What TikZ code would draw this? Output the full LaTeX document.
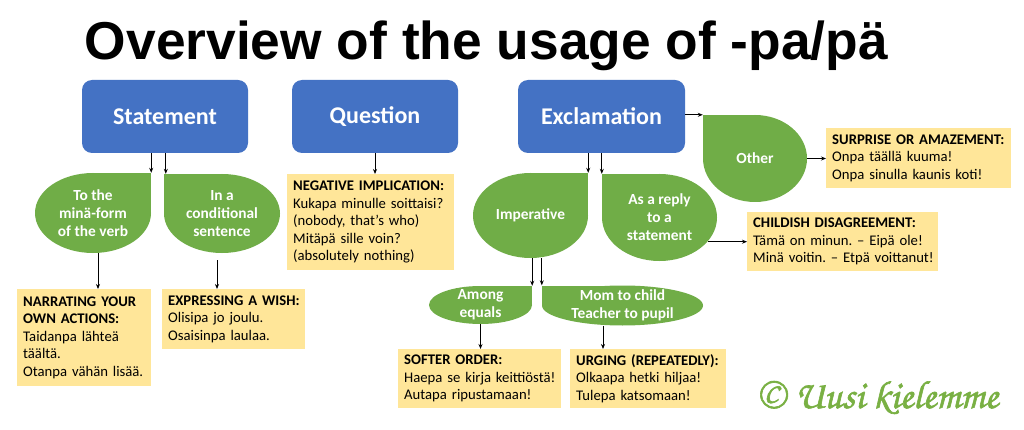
\documentclass[tikz,border=0pt]{standalone}
\usepackage{fontspec}
\usepackage{graphicx}
\setmainfont{Carlito}
\newfontfamily\titlefnt{Liberation Sans}
\newfontfamily\scriptfnt[FakeBold=1.5]{TeX Gyre Chorus}
\usetikzlibrary{arrows.meta}
\definecolor{blueC}{HTML}{4472C4}
\definecolor{greenC}{HTML}{70AD47}
\definecolor{yellowC}{HTML}{FFE699}
\definecolor{copyC}{HTML}{79B043}
\frenchspacing
\newcommand\yl[1]{\mbox{#1}}
\tikzset{
  bluebox/.style={fill=blueC, rounded corners=10pt, text=white, inner sep=0pt,
    font=\bfseries\fontsize{24}{28}\selectfont},
  leaf/.style={text=white, inner sep=0pt, align=center,
    font=\bfseries\fontsize{15.4}{18}\selectfont},
  ybox/.style={fill=yellowC, anchor=north west, inner xsep=6pt, inner ysep=3pt,
    align=left, text=black, font=\fontsize{14.7}{17.6}\selectfont},
  arr/.style={-{Stealth[length=5pt,width=4pt]}, line width=0.8pt, black}
}
% name, cx, cy, rx, ry, side(+1 = sharp NE, -1 = sharp NW), text
\newcommand\leafnode[7]{%
  \fill[greenC] (#2,#3) ellipse [x radius=#4pt, y radius=#5pt];
  \fill[greenC] (#2,#3) rectangle ++({#6*#4},{-#5});
  \node[leaf, minimum width=2*#4pt, minimum height=2*#5pt] (#1) at (#2,#3) {#7};
}
\begin{document}
\begin{tikzpicture}[x=1pt,y=-1pt]
\useasboundingbox[fill=white] (0,0) rectangle (1024,430);

% title
\node[anchor=base, inner sep=0pt] (title) at (486.5,59.5)
  {\resizebox{803pt}{!}{\titlefnt\bfseries\fontsize{53}{60}\selectfont Overview of the usage of -pa/pä}};

% blue boxes
\node[bluebox, minimum width=166pt, minimum height=73pt] (stmt) at (165,116.5) {Statement};
\node[bluebox, minimum width=166pt, minimum height=73pt] (ques) at (375,116.5) {Question};
\node[bluebox, minimum width=167pt, minimum height=73pt] (excl) at (601.5,116.5) {Exclamation};

% green leaves
\leafnode{mina}{93}{213}{58}{40}{1}{To the\\minä-form\\of the verb}
\leafnode{cond}{222}{213.5}{58}{39.5}{-1}{In a\\conditional\\sentence}
\leafnode{imp}{530.5}{215.5}{57.5}{42.5}{1}{Imperative}
\leafnode{reply}{659.5}{217.5}{57.5}{43.5}{-1}{As a reply\\to a\\statement}
\leafnode{other}{755}{158.5}{52}{43.5}{-1}{Other}
\leafnode{among}{480.5}{305}{51.5}{19}{1}{Among\\equals}
\leafnode{mom}{622.5}{305.5}{80.5}{20}{-1}{Mom to child\\Teacher to pupil}

% yellow boxes
\node[ybox, minimum width=134pt, minimum height=97pt, text width=122pt] (narr) at (17,289)
  {\yl{\textbf{NARRATING YOUR}}\\\yl{\textbf{OWN ACTIONS:}}\\\yl{Taidanpa lähteä}\\\yl{täältä.}\\\yl{Otanpa vähän lisää.}};
\node[ybox, minimum width=143pt, minimum height=60pt, text width=131pt] (wish) at (162,289)
  {\yl{\textbf{EXPRESSING A WISH:}}\\\yl{Olisipa jo joulu.}\\\yl{Osaisinpa laulaa.}};
\node[ybox, minimum width=167pt, minimum height=96pt, text width=155pt] (neg) at (287,174)
  {\yl{\textbf{NEGATIVE IMPLICATION:}}\\\yl{Kukapa minulle soittaisi?}\\\yl{(nobody, that’s who)}\\\yl{Mitäpä sille voin?}\\\yl{(absolutely nothing)}};
\node[ybox, minimum width=185pt, minimum height=60pt, text width=173pt] (surp) at (826,128)
  {\yl{\textbf{SURPRISE OR AMAZEMENT:}}\\\yl{Onpa täällä kuuma!}\\\yl{Onpa sinulla kaunis koti!}};
\node[ybox, minimum width=191pt, minimum height=59pt, text width=179pt] (child) at (747,212)
  {\yl{\textbf{CHILDISH DISAGREEMENT:}}\\\yl{Tämä on minun. – Eipä ole!}\\\yl{Minä voitin. – Etpä voittanut!}};
\node[ybox, minimum width=163pt, minimum height=59pt, text width=151pt] (soft) at (398,349)
  {\yl{\textbf{SOFTER ORDER:}}\\\yl{Haepa se kirja keittiöstä!}\\\yl{Autapa ripustamaan!}};
\node[ybox, minimum width=156pt, minimum height=59pt, text width=144pt] (urge) at (570,349)
  {\yl{\textbf{URGING (REPEATEDLY):}}\\\yl{Olkaapa hetki hiljaa!}\\\yl{Tulepa katsomaan!}};

% connectors
\draw[arr] (stmt.south -| mina.north east) -- (mina.north east);
\draw[arr] ([xshift=2pt]stmt.south -| cond.north west) -- ([xshift=2pt]cond.north west);
\draw[arr] (ques.south) -- (ques.south |- neg.north);
\draw[arr] (excl.south -| imp.north east) -- (imp.north east);
\draw[arr] (excl.south -| reply.north west) -- (reply.north west);
\draw[arr] (excl.east |- other.north west) -- (other.north west);
\draw[arr] (other.east) -- (other.east -| surp.west);
\draw[arr] ([xshift=-9pt]reply.east |- child.west) -- (child.west);
\draw[arr] ([xshift=5pt]mina.south) -- ([xshift=5pt]mina.south |- narr.north);
\draw[arr] ([xshift=-5pt,yshift=-7pt]cond.south) -- ([xshift=-5pt]cond.south |- wish.north);
\draw[arr] (imp.south -| among.north east) -- (among.north east);
\draw[arr] (imp.south -| mom.north west) -- (mom.north west);
\draw[arr] (among.south) -- (among.south |- soft.north);
\draw[arr] ([xshift=-19.5pt]mom.south) -- ([xshift=-19.5pt]mom.south |- urge.north);

% copyright
\node[anchor=base west, inner sep=0pt, text=copyC] (copy) at (757,408)
  {\resizebox{241pt}{!}{\scriptfnt\fontsize{30}{32}\selectfont © Uusi kielemme}};
\end{tikzpicture}
\end{document}
